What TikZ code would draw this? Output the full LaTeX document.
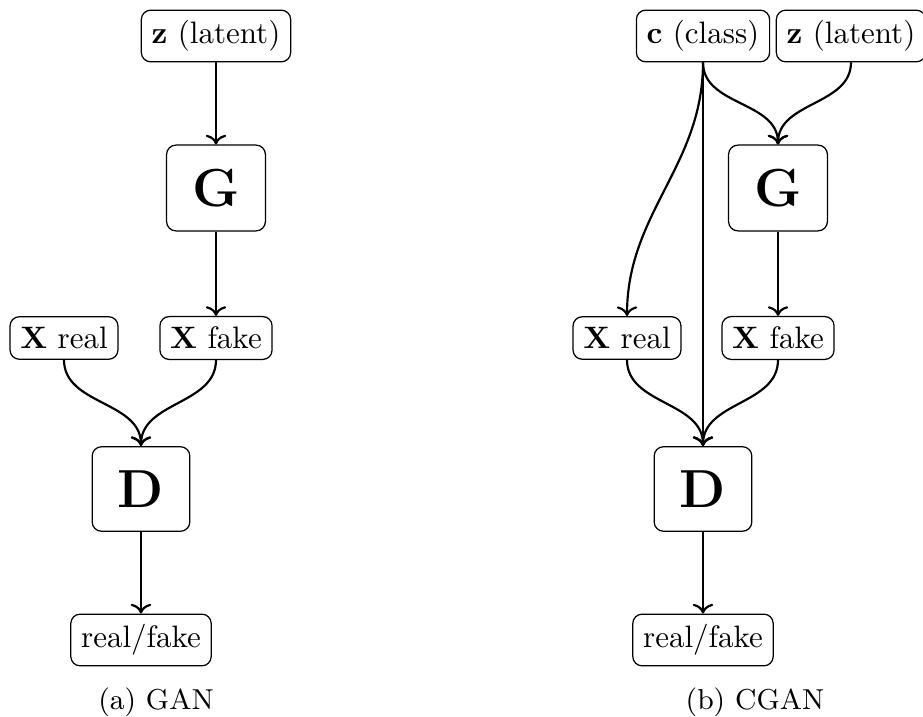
\documentclass[tikz,border=0pt]{standalone}
\usetikzlibrary{arrows.meta}
\begin{document}
\begin{tikzpicture}[x=0.3226pt,y=-0.3226pt,
  box/.style={draw,rounded corners=3pt,line width=0.4pt,inner sep=3.33pt},
  bigbox/.style={draw,rounded corners=3pt,line width=0.4pt,inner xsep=8.3pt,inner ysep=7.7pt,font=\LARGE\bfseries},
  captext/.style={font=\fontsize{9.3}{11}\selectfont},
  arr/.style={->,line width=0.7pt}]
\useasboundingbox (0,0) rectangle (923,717);
% left: GAN
\node[box] (z1) at (216,36) {$\mathbf{z}$ (latent)};
\node[bigbox] (G1) at (216,188) {G};
\node[box] (xr1) at (64,338) {$\mathbf{X}$ real};
\node[box] (xf1) at (216,338) {$\mathbf{X}$ fake};
\node[bigbox] (D1) at (141,489) {D};
\node[box] (o1) at (141,640) {real/fake};
\node[captext] (c1) at (156,702) {(a) GAN};
\draw[arr] (z1) -- (G1);
\draw[arr] (G1) -- (xf1);
\draw[arr] (xr1.south) to[out=-90,in=90] (D1.north);
\draw[arr] (xf1.south) to[out=-90,in=90] (D1.north);
\draw[arr] (D1) -- (o1);
% right: CGAN
\node[box] (c2) at (703,36) {$\mathbf{c}$ (class)};
\node[box] (z2) at (851,36) {$\mathbf{z}$ (latent)};
\node[bigbox] (G2) at (778,188) {G};
\node[box] (xr2) at (627,338) {$\mathbf{X}$ real};
\node[box] (xf2) at (778,338) {$\mathbf{X}$ fake};
\node[bigbox] (D2) at (703,489) {D};
\node[box] (o2) at (703,640) {real/fake};
\node[captext] (cap2) at (755,702) {(b) CGAN};
\draw[arr] (c2.south) to[out=-90,in=90] (G2.north);
\draw[arr] (z2.south) to[out=-90,in=90] (G2.north);
\draw[arr] (c2.south) to[out=-90,in=90] (xr2.north);
\draw[arr] (c2.south) -- (D2.north);
\draw[arr] (G2) -- (xf2);
\draw[arr] (xr2.south) to[out=-90,in=90] (D2.north);
\draw[arr] (xf2.south) to[out=-90,in=90] (D2.north);
\draw[arr] (D2) -- (o2);
\end{tikzpicture}
\end{document}
